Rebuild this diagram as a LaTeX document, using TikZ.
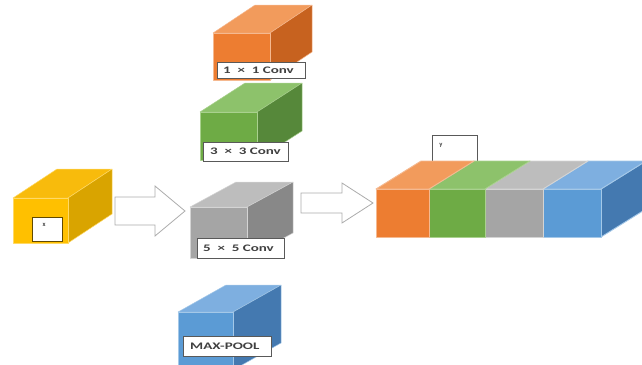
\documentclass[tikz,border=0pt]{standalone}
\usepackage{fontspec}
\setmainfont{Carlito}
\usepackage{graphicx}

% face colours: F = front, T = top, S = side, E = edge
\definecolor{orF}{HTML}{ED7D31}\definecolor{orT}{HTML}{F29B5C}\definecolor{orS}{HTML}{C7621F}\definecolor{orE}{HTML}{F5B990}
\definecolor{grF}{HTML}{6EAB45}\definecolor{grT}{HTML}{8DC26B}\definecolor{grS}{HTML}{56883A}\definecolor{grE}{HTML}{A9D18E}
\definecolor{gyF}{HTML}{A5A5A5}\definecolor{gyT}{HTML}{BDBDBD}\definecolor{gyS}{HTML}{888888}\definecolor{gyE}{HTML}{D4D4D4}
\definecolor{blF}{HTML}{5B9BD5}\definecolor{blT}{HTML}{7EAFE0}\definecolor{blS}{HTML}{4479B0}\definecolor{blE}{HTML}{A4C8E8}
\definecolor{yeF}{HTML}{FFC000}\definecolor{yeT}{HTML}{F8BB0C}\definecolor{yeS}{HTML}{D9A400}\definecolor{yeE}{HTML}{FFD966}
\definecolor{lblborder}{HTML}{595959}
\definecolor{lblink}{HTML}{404040}
\definecolor{arrowgray}{HTML}{ACACAC}

% cuboid: name, x0, y0, x1, y1 (front face), dx, dy (depth), colour prefix
\newcommand\cuboid[8]{%
  \fill[#8T, draw=#8E, face] (#2,#3) -- ++(#6,-#7) -- (#4+#6,#3-#7) -- (#4,#3) -- cycle;
  \fill[#8S, draw=#8E, face] (#4,#3) -- (#4+#6,#3-#7) -- (#4+#6,#5-#7) -- (#4,#5) -- cycle;
  \fill[#8F, draw=#8E, face] (#2,#3) rectangle (#4,#5);
  \coordinate (#1) at ({(#2+#4)/2},{(#3+#5)/2});
}
% one slab of the concatenated block: x0, x1, colour prefix
\newcommand\slab[3]{%
  \fill[#3T, draw=#3E, slabedge] (#1,189) -- ++(45,-28) -- (#2+45,161) -- (#2,189) -- cycle;
  \fill[#3F, draw=#3E, slabedge] (#1,189) rectangle (#2,237);
}

\tikzset{
  face/.style={line width=.5pt, line join=round},
  slabedge/.style={line width=.9pt, line join=round},
  lblbox/.style={draw=lblborder, fill=white, line width=.8pt, anchor=north west,
                 inner sep=0pt, outer sep=0pt},
  lbltext/.style={anchor=west, inner sep=0pt, text=lblink,
                  font=\bfseries\fontsize{10}{10}\selectfont},
  tinytext/.style={anchor=center, inner sep=0pt, text=lblink,
                  font=\bfseries\fontsize{6.5}{6.5}\selectfont},
  hollow/.style={draw=arrowgray, fill=white, line width=.8pt, line join=miter},
}
\newcommand\wide[1]{\scalebox{1.5}[1]{#1}}

\begin{document}
\begin{tikzpicture}[x=1pt, y=-1pt]
\useasboundingbox (0,0) rectangle (642,364);
\clip (0,0) rectangle (642,364);

% input block
\cuboid{xin}{13}{198}{68}{243}{44}{29}{ye}
\node[lblbox, draw=yeS!45!black, minimum width=30pt, minimum height=24pt] (xbox) at (32,217) {};
\node[tinytext] (xlbl) at (44,225) {x};

% hollow arrow into the branches
\draw[hollow] (115,197) -- (155,197) -- (155,186) -- (185,211) -- (155,236)
              -- (155,225) -- (115,225) -- cycle;

% 1x1 branch
\cuboid{c1}{213}{33}{270}{80}{42}{28}{or}
\node[lblbox, minimum width=88pt, minimum height=16pt] (l1) at (217,62) {};
\node[lbltext] (t1) at ([xshift=6pt]l1.west) {\wide{1~ ×~ 1 Conv}};

% 3x3 branch
\cuboid{c3}{200}{112}{257}{160}{45}{29}{gr}
\node[lblbox, minimum width=85pt, minimum height=19pt] (l3) at (203,142) {};
\node[lbltext] (t3) at ([xshift=7pt]l3.west) {\wide{3~ ×~ 3 Conv}};

% 5x5 branch
\cuboid{c5}{190}{207}{247}{258}{46}{25}{gy}
\node[lblbox, minimum width=87pt, minimum height=20pt] (l5) at (197,238) {};
\node[lbltext] (t5) at ([xshift=6pt]l5.west) {\wide{5~ ×~ 5 Conv}};

% pooling branch
\cuboid{mp}{178}{312}{233}{370}{48}{27}{bl}
\node[lblbox, minimum width=88pt, minimum height=20pt] (lp) at (183,336) {};
\node[lbltext] (tp) at ([xshift=7pt]lp.west) {\wide{MAX-POOL}};

% hollow arrow into the concatenation
\draw[hollow] (301,193) -- (342,193) -- (342,183) -- (373,203) -- (342,223)
              -- (342,213) -- (301,213) -- cycle;

% output label
\node[lblbox, minimum width=45pt, minimum height=27pt] (ybox) at (432,135) {};
\node[tinytext] (ylbl) at (441,145) {y};

% concatenated output block
\fill[blS, draw=blE, slabedge] (601,189) -- (646,161) -- (646,209) -- (601,237) -- cycle;
\slab{543}{601}{bl}
\slab{485}{543}{gy}
\slab{429}{485}{gr}
\slab{376}{429}{or}
\coordinate (yout) at (488,213);
\end{tikzpicture}
\end{document}
